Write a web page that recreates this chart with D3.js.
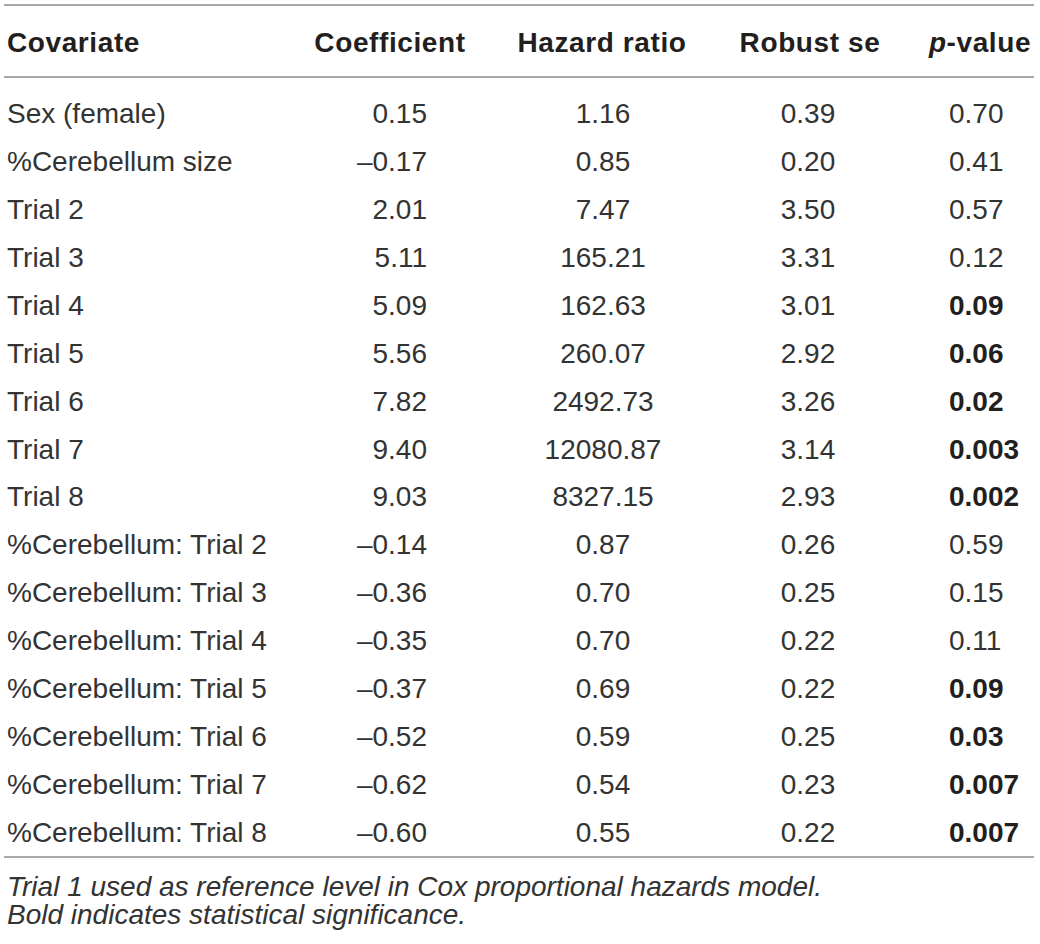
<!DOCTYPE html>
<html>
<head>
<meta charset="utf-8">
<script src="https://cdn.jsdelivr.net/npm/d3@7"></script>
<style>
  body { margin: 0; background: #fff; }
  svg text { font-family: "Liberation Sans", Arial, sans-serif; fill: #231f20; }
  svg text.body, svg text.note { fill: #333; }
</style>
</head>
<body>
<svg id="tbl" width="1040" height="944"></svg>
<script>
// table values
var covariates = ["Sex (female)", "%Cerebellum size", "Trial 2", "Trial 3", "Trial 4",
  "Trial 5", "Trial 6", "Trial 7", "Trial 8", "%Cerebellum: Trial 2", "%Cerebellum: Trial 3",
  "%Cerebellum: Trial 4", "%Cerebellum: Trial 5", "%Cerebellum: Trial 6",
  "%Cerebellum: Trial 7", "%Cerebellum: Trial 8"];
var coefficient = ["0.15", "–0.17", "2.01", "5.11", "5.09", "5.56", "7.82", "9.40", "9.03",
  "–0.14", "–0.36", "–0.35", "–0.37", "–0.52", "–0.62", "–0.60"];
var hazardRatio = ["1.16", "0.85", "7.47", "165.21", "162.63", "260.07", "2492.73",
  "12080.87", "8327.15", "0.87", "0.70", "0.70", "0.69", "0.59", "0.54", "0.55"];
var robustSe = ["0.39", "0.20", "3.50", "3.31", "3.01", "2.92", "3.26", "3.14", "2.93",
  "0.26", "0.25", "0.22", "0.22", "0.25", "0.23", "0.22"];
var pValue = ["0.70", "0.41", "0.57", "0.12", "0.09", "0.06", "0.02", "0.003", "0.002",
  "0.59", "0.15", "0.11", "0.09", "0.03", "0.007", "0.007"];
var significant = [0, 0, 0, 0, 1, 1, 1, 1, 1, 0, 0, 0, 1, 1, 1, 1];
var footnotes = ["Trial 1 used as reference level in Cox proportional hazards model.",
  "Bold indicates statistical significance."];

var svg = d3.select("#tbl");
var fs = 28;

// row baselines
var y = d3.scaleLinear().domain([0, covariates.length - 1]).range([123, 842]);

// columns: header anchor x, value anchor x, value alignment
var columns = [
  { head: "Covariate", hx: 7, ha: "start", vx: 7, va: "start", values: covariates },
  { head: "Coefficient", hx: 390, ha: "middle", vx: 427, va: "end", values: coefficient },
  { head: "Hazard ratio", hx: 602, ha: "middle", vx: 603, va: "middle", values: hazardRatio },
  { head: "Robust se", hx: 810, ha: "middle", vx: 808, va: "middle", values: robustSe },
  { head: "p-value", hx: 980, ha: "middle", vx: 949, va: "start", values: pValue }
];

// rules
var rules = [5, 77, 857];
svg.selectAll("line.rule").data(rules).enter().append("line")
  .attr("class", "rule")
  .attr("x1", 4).attr("x2", 1034)
  .attr("y1", function(d){ return d; })
  .attr("y2", function(d){ return d; })
  .attr("stroke", "#a7a9ac")
  .attr("stroke-width", 2);

// header
columns.forEach(function(c){
  var t = svg.append("text")
    .attr("x", c.hx).attr("y", 52)
    .attr("text-anchor", c.ha)
    .attr("font-size", fs)
    .attr("letter-spacing", "0.6px")
    .attr("font-weight", "bold");
  if (c.head === "p-value") {
    t.append("tspan").attr("font-style", "italic").text("p");
    t.append("tspan").text("-value");
  } else {
    t.text(c.head);
  }
});

// body
columns.forEach(function(c, ci){
  svg.selectAll("text.col" + ci).data(c.values).enter().append("text")
    .attr("class", function(d, i){ return (ci === 4 && significant[i]) ? "col" + ci : "col" + ci + " body"; })
    .attr("x", c.vx)
    .attr("y", function(d, i){ return y(i); })
    .attr("text-anchor", c.va)
    .attr("font-size", fs)
    .attr("font-weight", function(d, i){ return (ci === 4 && significant[i]) ? "bold" : "normal"; })
    .text(function(d){ return d; });
});

// footnotes
svg.selectAll("text.note").data(footnotes).enter().append("text")
  .attr("class", "note")
  .attr("x", 7)
  .attr("y", function(d, i){ return 896 + i * 28; })
  .attr("font-size", 28)
  .attr("font-style", "italic")
  .text(function(d){ return d; });
</script>
</body>
</html>
